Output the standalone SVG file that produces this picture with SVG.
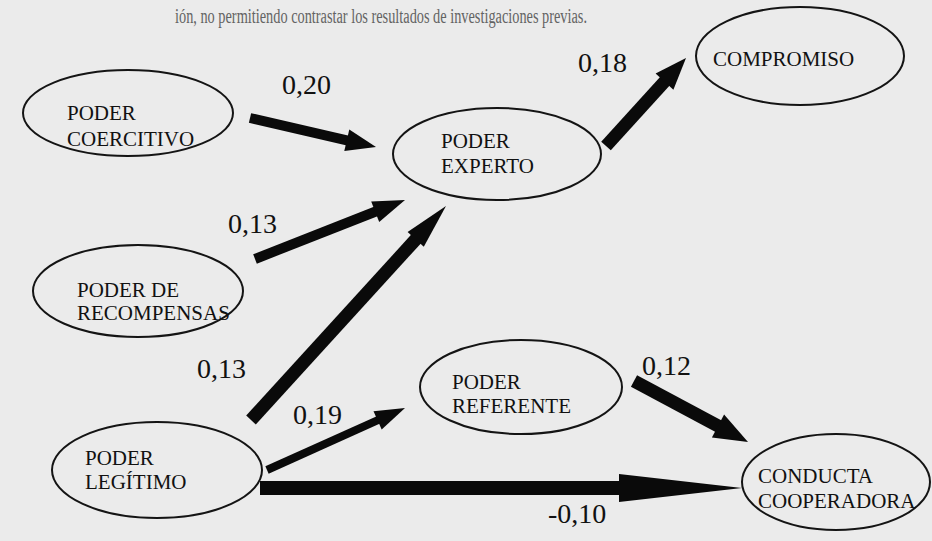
<svg xmlns="http://www.w3.org/2000/svg" width="932" height="541" viewBox="0 0 932 541">
<style>
.bg{fill:#ebebeb}
.node ellipse{fill:none;stroke:#141414;stroke-width:2}
.node text{font-size:21px;fill:#111}
.lbl{font-size:28px;fill:#111}
.shaft{stroke:#0a0a0a;stroke-linecap:butt;fill:none}
.head{fill:#0a0a0a}
.top{font-size:20px;fill:#636363}
</style>
<rect class="bg" x="0" y="0" width="932" height="541"/>
<g font-family="'Liberation Serif', 'DejaVu Serif', serif">
<text class="top" x="175" y="23" textLength="412" lengthAdjust="spacingAndGlyphs">ión, no permitiendo contrastar los resultados de investigaciones previas.</text>

<g id="connectors">
  <g id="e-coer-exp">
    <line class="shaft" x1="250" y1="118" x2="348" y2="140.6" stroke-width="10"/>
    <polygon class="head" points="376,147 344.3,151 349.3,129.6"/>
  </g>
  <g id="e-exp-comp">
    <line class="shaft" x1="606" y1="146" x2="666" y2="80" stroke-width="13"/>
    <polygon class="head" points="686,58 673.4,89.8 655.6,73.6"/>
  </g>
  <g id="e-rec-exp">
    <line class="shaft" x1="255" y1="259" x2="377" y2="211" stroke-width="10"/>
    <polygon class="head" points="405,200 379.2,221.9 371.2,201.5"/>
  </g>
  <g id="e-leg-exp">
    <line class="shaft" x1="251" y1="420" x2="417" y2="238" stroke-width="13"/>
    <polygon class="head" points="446,206 423.8,246.7 407.6,231.9"/>
  </g>
  <g id="e-leg-ref">
    <line class="shaft" x1="267" y1="470" x2="379" y2="419.7" stroke-width="8"/>
    <polygon class="head" points="405,408 381.7,429.4 373.5,411.2"/>
  </g>
  <g id="e-ref-cond">
    <line class="shaft" x1="634" y1="381" x2="720" y2="427" stroke-width="13"/>
    <polygon class="head" points="748,442 711.9,437.5 724.1,414.5"/>
  </g>
  <g id="e-leg-cond">
    <line class="shaft" x1="260" y1="488" x2="621" y2="488" stroke-width="14"/>
    <polygon class="head" points="619,474 742,488 619,502"/>
  </g>
  <text class="lbl" x="282" y="94">0,20</text>
  <text class="lbl" x="578" y="72">0,18</text>
  <text class="lbl" x="228" y="233">0,13</text>
  <text class="lbl" x="197" y="378">0,13</text>
  <text class="lbl" x="293" y="424">0,19</text>
  <text class="lbl" x="642" y="375">0,12</text>
  <text class="lbl" x="548" y="523">-0,10</text>
</g>

<g id="n-coercitivo" class="node">
  <ellipse cx="128" cy="113" rx="105" ry="43"/>
  <text x="67" y="120">PODER</text>
  <text x="67" y="146">COERCITIVO</text>
</g>
<g id="n-experto" class="node">
  <ellipse cx="497" cy="154" rx="104" ry="46"/>
  <text x="441" y="148">PODER</text>
  <text x="441" y="173">EXPERTO</text>
</g>
<g id="n-compromiso" class="node">
  <ellipse cx="800" cy="56" rx="104" ry="49"/>
  <text x="713" y="66">COMPROMISO</text>
</g>
<g id="n-recompensas" class="node">
  <ellipse cx="138" cy="291" rx="105" ry="46"/>
  <text x="77" y="297">PODER DE</text>
  <text x="77" y="320">RECOMPENSAS</text>
</g>
<g id="n-referente" class="node">
  <ellipse cx="521" cy="387" rx="101" ry="47"/>
  <text x="452" y="389">PODER</text>
  <text x="452" y="413">REFERENTE</text>
</g>
<g id="n-legitimo" class="node">
  <ellipse cx="157" cy="470" rx="105" ry="48"/>
  <text x="85" y="465">PODER</text>
  <text x="85" y="489">LEGÍTIMO</text>
</g>
<g id="n-conducta" class="node">
  <ellipse cx="836" cy="482" rx="94" ry="48"/>
  <text x="758" y="483">CONDUCTA</text>
  <text x="758" y="508">COOPERADORA</text>
</g>
</g>
</svg>
